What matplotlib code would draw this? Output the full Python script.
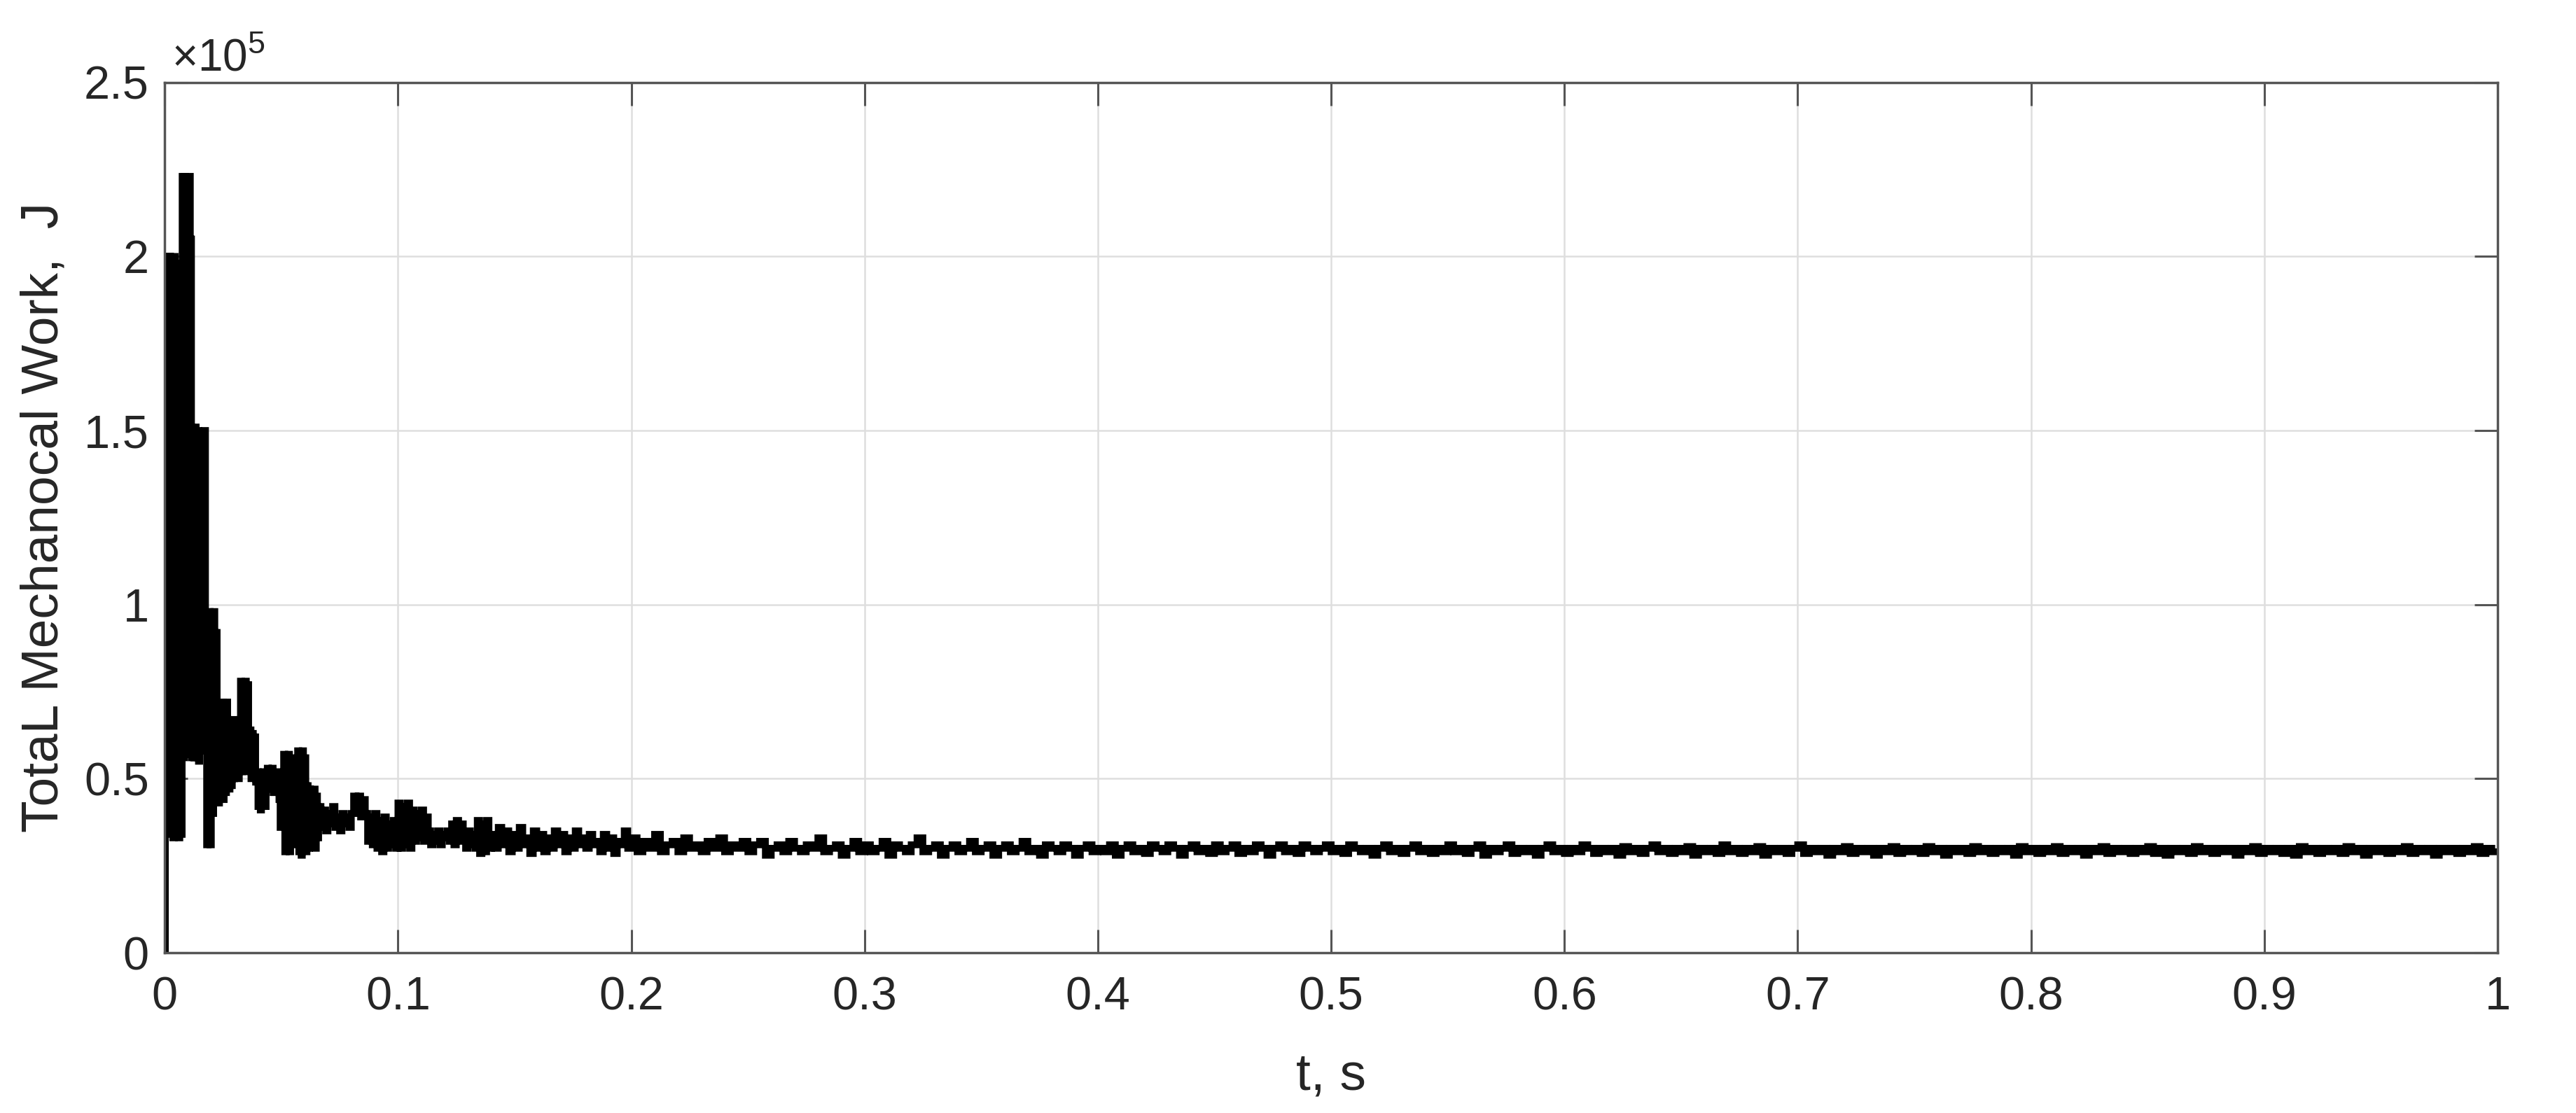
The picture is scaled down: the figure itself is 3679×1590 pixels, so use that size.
import numpy as np
import matplotlib.pyplot as plt

plt.rcParams['font.family'] = ['Liberation Sans', 'DejaVu Sans']
plt.rcParams['mathtext.fontset'] = 'custom'
plt.rcParams['mathtext.rm'] = 'Liberation Sans'

# work values in units of 1e5 J
t_start = [0.0, 0.0003, 0.0006]
w_start = [0.0, 0.5, 1.2]

# 0.0010 .. 0.0655 s, step 0.0005
w_early = [2.00, 0.34, 2.00, 0.35, 1.95, 0.33, 2.00, 0.36, 1.98,
           1.80, 0.33, 1.78, 0.34,
           2.23, 0.56, 2.23, 0.58, 2.22, 0.57, 2.23,
           2.05, 0.56,
           1.50, 0.56, 1.51, 0.57, 1.50, 0.55, 1.48, 0.60, 1.49, 0.58, 1.50,
           0.65, 0.31, 0.66,
           0.98, 0.31, 0.97, 0.40, 0.98, 0.43, 0.92,
           0.72, 0.43, 0.71, 0.45, 0.72, 0.44, 0.70, 0.46, 0.72,
           0.67, 0.47, 0.66, 0.48, 0.67, 0.50, 0.65, 0.51, 0.66, 0.50, 0.67,
           0.78, 0.52, 0.77, 0.53, 0.78, 0.52, 0.77, 0.54,
           0.64, 0.50, 0.63, 0.51, 0.62, 0.49,
           0.52, 0.42, 0.51, 0.41, 0.50, 0.43, 0.52, 0.42, 0.49,
           0.53, 0.47, 0.52, 0.48, 0.53, 0.46, 0.51, 0.47, 0.52, 0.48,
           0.44, 0.36, 0.43, 0.37,
           0.57, 0.29, 0.56, 0.30, 0.57, 0.29, 0.55, 0.31, 0.56,
           0.45, 0.40, 0.46,
           0.58, 0.29, 0.57, 0.28, 0.58, 0.30, 0.56, 0.29,
           0.48, 0.30, 0.47, 0.31, 0.46, 0.32, 0.47, 0.30, 0.45, 0.33]

# 0.066 .. 0.139 s, step 0.001
w_mid = [0.42, 0.36, 0.41, 0.35, 0.40, 0.37, 0.42, 0.36, 0.39, 0.35, 0.40, 0.37, 0.39, 0.36, 0.40,
         0.45, 0.40, 0.45, 0.39, 0.44,
         0.40, 0.32, 0.39, 0.31, 0.40, 0.30, 0.38, 0.29, 0.39, 0.30, 0.37, 0.31, 0.38, 0.30,
         0.43, 0.30, 0.42, 0.31, 0.43, 0.30,
         0.41, 0.32, 0.40, 0.33, 0.41, 0.32, 0.39,
         0.35, 0.31, 0.34, 0.32, 0.35, 0.31, 0.34, 0.33, 0.35, 0.32,
         0.37, 0.31, 0.38, 0.32, 0.37,
         0.34, 0.30, 0.35, 0.31, 0.34, 0.30,
         0.38, 0.285, 0.37, 0.29, 0.38, 0.30]

# 0.140 .. 0.1985 s, step 0.0015
w_late = [0.34, 0.30, 0.36, 0.31, 0.35, 0.29, 0.34, 0.30, 0.36, 0.31,
          0.33, 0.285, 0.35, 0.30, 0.34, 0.29, 0.33, 0.30, 0.35, 0.31,
          0.34, 0.29, 0.33, 0.30, 0.35, 0.31, 0.33, 0.30, 0.34, 0.31,
          0.32, 0.29, 0.34, 0.30, 0.33, 0.285, 0.32, 0.31, 0.35, 0.30]

# 0.200 .. 0.9975 s, step 0.0025
w_tail = [0.33, 0.29, 0.32, 0.30, 0.34, 0.29, 0.31, 0.32, 0.29, 0.33, 0.30, 0.31, 0.29, 0.32, 0.30, 0.33, 0.29, 0.31, 0.30, 0.32,
          0.29, 0.31, 0.32, 0.28, 0.30, 0.31, 0.29, 0.32, 0.30, 0.29, 0.31, 0.30, 0.33, 0.29, 0.30, 0.31, 0.28, 0.30, 0.32, 0.29,
          0.31, 0.29, 0.30, 0.32, 0.28, 0.31, 0.30, 0.29, 0.31, 0.33, 0.29, 0.30, 0.31, 0.28, 0.30, 0.31, 0.29, 0.30, 0.32, 0.29,
          0.30, 0.31, 0.28, 0.30, 0.31, 0.29, 0.30, 0.32, 0.29, 0.30, 0.28, 0.31, 0.30, 0.29, 0.31, 0.30, 0.28, 0.30, 0.31, 0.29,
          0.30, 0.29, 0.31, 0.28, 0.30, 0.31, 0.29, 0.30, 0.285, 0.31, 0.30, 0.29, 0.31, 0.30, 0.28, 0.30, 0.31, 0.29, 0.30, 0.285,
          0.31, 0.29, 0.30, 0.31, 0.285, 0.30, 0.29, 0.31, 0.30, 0.28, 0.30, 0.31, 0.29, 0.30, 0.285, 0.31, 0.30, 0.29, 0.30, 0.31,
          0.29, 0.30, 0.285, 0.31, 0.30, 0.29, 0.30, 0.28, 0.30, 0.31, 0.29, 0.30, 0.285, 0.30, 0.31, 0.29, 0.30, 0.285, 0.30, 0.29,
          0.31, 0.29, 0.30, 0.285, 0.30, 0.31, 0.28, 0.30, 0.29, 0.30, 0.31, 0.285, 0.30, 0.29, 0.30, 0.28, 0.30, 0.31, 0.29, 0.30,
          0.285, 0.30, 0.29, 0.31, 0.30, 0.285, 0.30, 0.29, 0.30, 0.28, 0.305, 0.29, 0.30, 0.285, 0.30, 0.31, 0.29, 0.30, 0.285, 0.30,
          0.29, 0.305, 0.28, 0.30, 0.29, 0.30, 0.285, 0.31, 0.29, 0.30, 0.285, 0.30, 0.29, 0.305, 0.28, 0.30, 0.29, 0.30, 0.285, 0.30,
          0.31, 0.285, 0.30, 0.29, 0.30, 0.28, 0.30, 0.29, 0.305, 0.285, 0.30, 0.29, 0.30, 0.28, 0.30, 0.29, 0.305, 0.285, 0.30, 0.29,
          0.30, 0.285, 0.305, 0.29, 0.30, 0.28, 0.30, 0.29, 0.30, 0.285, 0.305, 0.29, 0.30, 0.285, 0.30, 0.29, 0.30, 0.28, 0.305, 0.29,
          0.30, 0.285, 0.30, 0.29, 0.305, 0.285, 0.30, 0.29, 0.30, 0.28, 0.30, 0.29, 0.305, 0.285, 0.30, 0.29, 0.30, 0.285, 0.30, 0.29,
          0.305, 0.285, 0.30, 0.28, 0.30, 0.29, 0.30, 0.285, 0.305, 0.29, 0.30, 0.285, 0.30, 0.29, 0.30, 0.28, 0.30, 0.29, 0.305, 0.285,
          0.30, 0.29, 0.30, 0.285, 0.30, 0.28, 0.305, 0.29, 0.30, 0.285, 0.30, 0.29, 0.30, 0.285, 0.305, 0.29, 0.30, 0.28, 0.30, 0.29,
          0.30, 0.285, 0.30, 0.29, 0.305, 0.285, 0.30, 0.29, 0.30, 0.28, 0.30, 0.29, 0.30, 0.285, 0.30, 0.29, 0.305, 0.285, 0.30, 0.29]

x_ticks = [0, 0.1, 0.2, 0.3, 0.4, 0.5, 0.6, 0.7, 0.8, 0.9, 1]
x_labels = ["0", "0.1", "0.2", "0.3", "0.4", "0.5", "0.6", "0.7", "0.8", "0.9", "1"]
y_ticks = [0, 0.5, 1, 1.5, 2, 2.5]
y_labels = ["0", "0.5", "1", "1.5", "2", "2.5"]

t = np.concatenate([
    t_start,
    0.0010 + 0.0005 * np.arange(len(w_early)),
    0.066 + 0.001 * np.arange(len(w_mid)),
    0.140 + 0.0015 * np.arange(len(w_late)),
    0.200 + 0.0025 * np.arange(len(w_tail)),
    [1.0],
])
w = np.concatenate([w_start, w_early, w_mid, w_late, w_tail, [w_tail[-1]]])

txt = "#262626"
fig = plt.figure(figsize=(36.8, 15.9), dpi=100)
ax = fig.add_axes([0.0639, 0.144, 0.9054, 0.782])

ax.plot(t, w, color="black", linewidth=7, drawstyle="steps-post", solid_joinstyle="miter")

ax.set_xlim(0, 1)
ax.set_ylim(0, 2.5)
ax.set_xticks(x_ticks)
ax.set_xticklabels(x_labels)
ax.set_yticks(y_ticks)
ax.set_yticklabels(y_labels)

ax.grid(True, color="#dedede", linewidth=1.8)
ax.set_axisbelow(True)
for s in ax.spines.values():
    s.set_color("#555555")
    s.set_linewidth(2.5)
ax.tick_params(direction="in", length=24, width=2.2, colors="#555555",
               labelcolor=txt, labelsize=48, top=True, right=True)
ax.tick_params(axis="x", pad=24)
ax.tick_params(axis="y", pad=16)

ax.set_xlabel("t, s", fontsize=54, color=txt)
ax.xaxis.set_label_coords(0.5, -0.1415)
ax.xaxis.label.set_va("center")
ax.set_ylabel("TotaL Mechanocal Work,  J", fontsize=54, color=txt)
ax.yaxis.set_label_coords(-0.0516, 0.5)
ax.yaxis.label.set_va("center")
ax.text(0.003, 1.003, r"$\times10^{5}$", transform=ax.transAxes, ha="left", va="bottom",
        fontsize=46, color=txt)

plt.savefig("out.png", dpi=100)
